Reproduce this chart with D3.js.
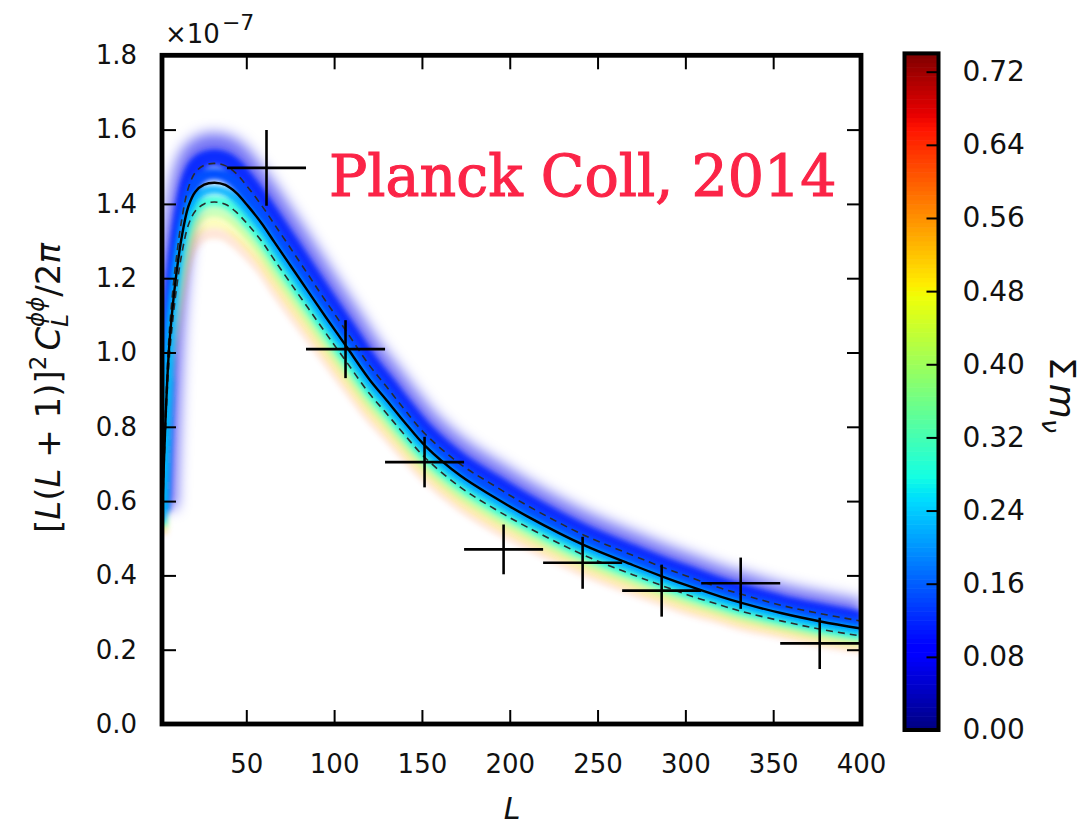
<!DOCTYPE html>
<html>
<head>
<meta charset="utf-8">
<script src="https://cdn.jsdelivr.net/npm/d3@7"></script>
<style>
  html, body { margin: 0; padding: 0; background: #ffffff; }
  svg { display: block; }
  text { font-family: "DejaVu Sans", sans-serif; fill: #111; }
</style>
</head>
<body>
<svg id="chart" width="1086" height="828"></svg>
<script>
// Lensing potential power spectrum [L(L+1)]^2 C_L^{phi phi} / 2pi, in units of 1e-7
const multipoles = [2, 4, 6, 8, 10, 13, 17, 21, 26, 32, 38, 44, 51, 59, 66, 75, 85, 95, 107,
  120, 130, 140, 152, 172, 191, 210, 242, 270, 287, 301, 320, 332, 355, 377, 400];
const bestFit = [0.55, 0.82, 1.01, 1.12, 1.205, 1.305, 1.393, 1.433, 1.452, 1.457, 1.451, 1.431,
  1.394, 1.346, 1.297, 1.235, 1.166, 1.097, 1.016, 0.928, 0.871, 0.813, 0.748, 0.668, 0.611,
  0.559, 0.482, 0.428, 0.397, 0.373, 0.343, 0.326, 0.298, 0.276, 0.257];
const upperEnvelope = [0.567, 0.846, 1.044, 1.159, 1.247, 1.351, 1.443, 1.485, 1.504, 1.509,
  1.503, 1.483, 1.444, 1.394, 1.345, 1.282, 1.211, 1.140, 1.057, 0.966, 0.907, 0.847, 0.780,
  0.699, 0.642, 0.588, 0.509, 0.454, 0.422, 0.398, 0.366, 0.349, 0.319, 0.297, 0.277];
const lowerEnvelope = [0.534, 0.794, 0.976, 1.081, 1.163, 1.259, 1.343, 1.381, 1.400, 1.405,
  1.399, 1.379, 1.344, 1.298, 1.249, 1.188, 1.121, 1.054, 0.975, 0.890, 0.835, 0.779, 0.716,
  0.637, 0.580, 0.530, 0.455, 0.402, 0.372, 0.348, 0.320, 0.303, 0.277, 0.255, 0.237];

// Measured bandpowers
const binLow = [39, 84, 129, 174, 219, 264, 309, 354];
const binHigh = [84, 129, 174, 219, 264, 309, 354, 399];
const bandPower = [1.497, 1.009, 0.705, 0.470, 0.434, 0.359, 0.379, 0.217];
const bandError = [0.102, 0.078, 0.068, 0.067, 0.070, 0.070, 0.069, 0.069];

// Axis ticks
const xTicks = [50, 100, 150, 200, 250, 300, 350, 400];
const yTicks = [0.0, 0.2, 0.4, 0.6, 0.8, 1.0, 1.2, 1.4, 1.6, 1.8];
const massTicks = [0.00, 0.08, 0.16, 0.24, 0.32, 0.40, 0.48, 0.56, 0.64, 0.72];
const massRange = [0, 0.74];

const svg = d3.select("#chart");
const plot = { left: 162, right: 861, top: 55.3, bottom: 724 };

const x = d3.scaleLinear().domain([2, 400]).range([plot.left, plot.right]);
const y = d3.scaleLinear().domain([0, 1.8]).range([plot.bottom, plot.top]);

// matplotlib "jet" colormap
const jetR = d3.scaleLinear().domain([0, 0.35, 0.66, 0.89, 1]).range([0, 0, 1, 1, 0.5]).clamp(true);
const jetG = d3.scaleLinear().domain([0, 0.125, 0.375, 0.64, 0.91, 1]).range([0, 0, 1, 1, 0, 0]).clamp(true);
const jetB = d3.scaleLinear().domain([0, 0.11, 0.34, 0.65, 1]).range([0.5, 1, 1, 0, 0]).clamp(true);
const massNorm = d3.scaleLinear().domain(massRange).range([0, 1]).clamp(true);
function jet(m) {
  const t = massNorm(m);
  return d3.rgb(jetR(t) * 255, jetG(t) * 255, jetB(t) * 255).formatHex();
}

const defs = svg.append("defs");
defs.append("clipPath").attr("id", "plotClip")
  .append("rect")
  .attr("x", plot.left).attr("y", plot.top)
  .attr("width", plot.right - plot.left).attr("height", plot.bottom - plot.top);
[["soften", 2.6], ["haze", 7]].forEach(([id, sd]) => {
  defs.append("filter").attr("id", id)
    .attr("filterUnits", "userSpaceOnUse")
    .attr("x", 0).attr("y", 0).attr("width", 1086).attr("height", 828)
    .append("feGaussianBlur").attr("stdDeviation", sd);
});

const line = d3.line()
  .x(d => x(d.L)).y(d => y(d.v))
  .curve(d3.curveCatmullRom.alpha(0.5));

// Curve shifted across the envelope: p<0 toward the upper dashed line, p>0 toward the lower one
function shifted(p) {
  return multipoles.map((L, i) => {
    const c = bestFit[i];
    const v = p < 0 ? c + (-p) * (upperEnvelope[i] - c) : c + p * (lowerEnvelope[i] - c);
    return { L, v };
  });
}

// Coloured neutrino-mass band: a soft outer glow plus layered strokes
const hazeStrokes = [
  { p: -1.8, m: 0.07, w: 30, o: 0.55 }
];
const bandStrokes = [
  { p: 2.6, m: 0.60, w: 12, o: 0.15 },
  { p: 2.0, m: 0.48, w: 12, o: 0.25 },
  { p: 1.45, m: 0.38, w: 12, o: 0.45 },
  { p: -1.3, m: 0.12, w: 16, o: 0.9 },
  { p: -0.45, m: 0.15, w: 12, o: 1.0 },
  { p: 0.95, m: 0.29, w: 10, o: 0.8 },
  { p: 0.35, m: 0.22, w: 8, o: 0.95 }
];
const bandClip = svg.append("g").attr("clip-path", "url(#plotClip)");
[[hazeStrokes, "haze"], [bandStrokes, "soften"]].forEach(([set, filt]) => {
  bandClip.append("g").attr("filter", `url(#${filt})`)
    .selectAll("path").data(set).join("path")
    .attr("d", s => line(shifted(s.p)))
    .attr("fill", "none")
    .attr("stroke", s => jet(s.m))
    .attr("stroke-width", s => s.w)
    .attr("stroke-opacity", s => s.o)
    .attr("stroke-linejoin", "round");
});

// Best fit and envelope lines
const lines = svg.append("g").attr("clip-path", "url(#plotClip)");
const asPoints = arr => multipoles.map((L, i) => ({ L, v: arr[i] }));
[upperEnvelope, lowerEnvelope].forEach(arr => {
  lines.append("path")
    .attr("d", line(asPoints(arr)))
    .attr("fill", "none").attr("stroke", "#2b2b2b")
    .attr("stroke-width", 1.6).attr("stroke-dasharray", "7,5");
});
lines.append("path")
  .attr("d", line(asPoints(bestFit)))
  .attr("fill", "none").attr("stroke", "#000").attr("stroke-width", 2.4);

// Bandpower crosses
const crosses = svg.append("g").attr("clip-path", "url(#plotClip)")
  .attr("stroke", "#000").attr("stroke-width", 2.6);
binLow.forEach((lo, i) => {
  const hi = binHigh[i], mid = (lo + hi) / 2;
  crosses.append("line")
    .attr("x1", x(lo)).attr("x2", x(hi))
    .attr("y1", y(bandPower[i])).attr("y2", y(bandPower[i]));
  crosses.append("line")
    .attr("x1", x(mid)).attr("x2", x(mid))
    .attr("y1", y(bandPower[i] - bandError[i])).attr("y2", y(bandPower[i] + bandError[i]));
});

// Axes with inward ticks on all four sides
function styleAxis(g, fontSize) {
  g.select(".domain").remove();
  g.selectAll(".tick line").attr("stroke", "#000").attr("stroke-width", 2);
  g.selectAll(".tick text").attr("font-size", fontSize).attr("fill", "#111");
}
svg.append("g").attr("transform", `translate(0,${plot.bottom})`)
  .call(d3.axisBottom(x).tickValues(xTicks).tickSize(-14).tickPadding(31).tickFormat(d3.format("d")))
  .call(g => styleAxis(g, 26));
svg.append("g").attr("transform", `translate(0,${plot.top})`)
  .call(d3.axisTop(x).tickValues(xTicks).tickSize(-14).tickFormat(""))
  .call(g => styleAxis(g, 26));
svg.append("g").attr("transform", `translate(${plot.left},0)`)
  .call(d3.axisLeft(y).tickValues(yTicks).tickSize(-14).tickPadding(25).tickFormat(d3.format(".1f")))
  .call(g => styleAxis(g, 26));
svg.append("g").attr("transform", `translate(${plot.right},0)`)
  .call(d3.axisRight(y).tickValues(yTicks).tickSize(-14).tickFormat(""))
  .call(g => styleAxis(g, 26));

svg.append("rect")
  .attr("x", plot.left).attr("y", plot.top)
  .attr("width", plot.right - plot.left).attr("height", plot.bottom - plot.top)
  .attr("fill", "none").attr("stroke", "#000").attr("stroke-width", 4.8);

// Offset text for the y axis
const offset = svg.append("text").attr("x", 165).attr("y", 43).attr("font-size", 26);
offset.append("tspan").text("×10");
offset.append("tspan").attr("font-size", 22).attr("dx", 2).attr("dy", -13).text("−7");

// Axis titles
svg.append("text").attr("x", 512).attr("y", 819)
  .attr("text-anchor", "middle").attr("font-size", 30).attr("font-style", "italic").text("L");

const ylab = svg.append("text")
  .attr("transform", "translate(60,388) rotate(-90)")
  .attr("text-anchor", "middle").attr("font-size", 34);
ylab.append("tspan").text("[");
ylab.append("tspan").attr("font-style", "italic").text("L");
ylab.append("tspan").text("(");
ylab.append("tspan").attr("font-style", "italic").text("L");
ylab.append("tspan").text(" + 1)]");
ylab.append("tspan").attr("font-size", 23).attr("dy", -14).text("2");
ylab.append("tspan").attr("font-style", "italic").attr("dx", 5).attr("dy", 14).text("C");
ylab.append("tspan").attr("font-style", "italic").attr("font-size", 23).attr("dy", 8).text("L");
ylab.append("tspan").attr("font-style", "italic").attr("font-size", 23).attr("dx", -13).attr("dy", -24).text("ϕϕ");
ylab.append("tspan").attr("dy", 16).text("/2");
ylab.append("tspan").attr("font-style", "italic").text("π");

// Annotation
svg.append("text").attr("x", 329).attr("y", 196)
  .style("font-family", "'DejaVu Serif', serif")
  .attr("font-size", 57).style("fill", "#fb2447")
  .style("stroke", "#fb2447").style("stroke-width", 1.1)
  .text("Planck Coll, 2014");

// Colour bar
const cb = { left: 904.5, width: 34 };
const cy = d3.scaleLinear().domain(massRange).range([730, 53.4]);
const cbSteps = d3.range(massRange[0], massRange[1], 0.005);
svg.append("g").selectAll("rect").data(cbSteps).join("rect")
  .attr("x", cb.left).attr("width", cb.width)
  .attr("y", d => cy(Math.min(d + 0.005, massRange[1])))
  .attr("height", d => cy(d) - cy(Math.min(d + 0.005, massRange[1])) + 0.6)
  .attr("fill", d => jet(d + 0.0025));
svg.append("g").attr("transform", `translate(${cb.left + cb.width},0)`)
  .call(d3.axisRight(cy).tickValues(massTicks).tickSize(-12).tickPadding(24).tickFormat(d3.format(".2f")))
  .call(g => styleAxis(g, 28));
svg.append("rect")
  .attr("x", cb.left).attr("y", cy(massRange[1]))
  .attr("width", cb.width).attr("height", cy(0) - cy(massRange[1]))
  .attr("fill", "none").attr("stroke", "#000").attr("stroke-width", 4);

const cbl = svg.append("text")
  .attr("transform", "translate(1050,395) rotate(90)")
  .attr("text-anchor", "middle").attr("font-size", 36);
cbl.append("tspan").text("Σ");
cbl.append("tspan").attr("font-style", "italic").attr("dx", 4).text("m");
cbl.append("tspan").attr("font-style", "italic").attr("font-size", 25).attr("dy", 8).text("ν");
</script>
</body>
</html>
